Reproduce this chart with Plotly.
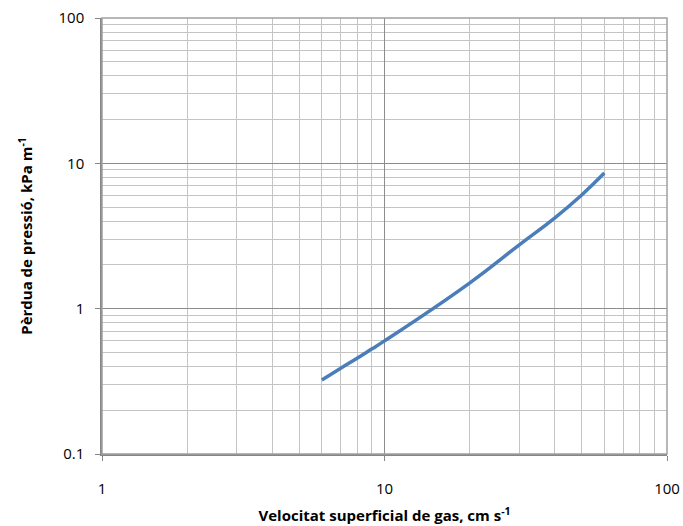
import plotly.graph_objects as go

# Superficial gas velocity (cm/s) and pressure drop (kPa/m)
velocitat = [6, 7, 8, 9, 10, 20, 30, 40, 50, 60]
perdua = [0.323, 0.389, 0.456, 0.527, 0.600, 1.50, 2.75, 4.20, 6.08, 8.57]

x_ticks = [1, 10, 100]
y_ticks = [0.1, 1, 10, 100]

font_family = "'Open Sans', 'Liberation Sans', sans-serif"
major_grid = "#8c8c8c"
minor_grid = "#c4c4c4"

fig = go.Figure()
fig.add_trace(go.Scatter(
    x=velocitat, y=perdua, mode="lines",
    line=dict(color="#4a7ebb", width=3.5, shape="spline", smoothing=1.3),
    showlegend=False, hoverinfo="skip",
))

axis_common = dict(
    type="log", automargin=False,
    showline=True, linecolor="#868686", linewidth=1.5, mirror=False,
    ticks="outside", ticklen=5, tickcolor="#868686", tickwidth=1,
    showgrid=True, gridcolor=major_grid, gridwidth=1,
    tickfont=dict(family=font_family, size=15, color="#000000"),
    zeroline=False,
    minor=dict(dtick="D1", showgrid=True, gridcolor=minor_grid, gridwidth=1, ticks=""),
)

fig.update_xaxes(
    **axis_common,
    range=[0, 2],
    tickvals=x_ticks, ticktext=["1", "10", "100"],
    ticklabelstandoff=15,
    title=dict(text="Velocitat superficial de gas, cm s<sup>-1</sup>",
               font=dict(family=font_family, size=15, color="#000000", weight="bold"),
               standoff=14),
)
fig.update_yaxes(
    **axis_common,
    range=[-1, 2],
    tickvals=y_ticks, ticktext=["0.1", "1", "10", "100"],
    ticklabelstandoff=8,
    title=dict(text="Pèrdua de pressió, kPa m<sup>-1</sup>",
               font=dict(family=font_family, size=15, color="#000000", weight="bold"),
               standoff=22),
)

# Outer frame on top and right
fig.add_shape(type="rect", xref="paper", yref="paper", x0=0, y0=0, x1=1, y1=1,
              line=dict(color="#a0a0a0", width=1.5), layer="above")

fig.update_layout(
    width=683, height=526,
    margin=dict(l=102, r=16, t=18, b=72),
    plot_bgcolor="#ffffff", paper_bgcolor="#ffffff",
    font=dict(family=font_family),
)

fig.write_html("out.html")
